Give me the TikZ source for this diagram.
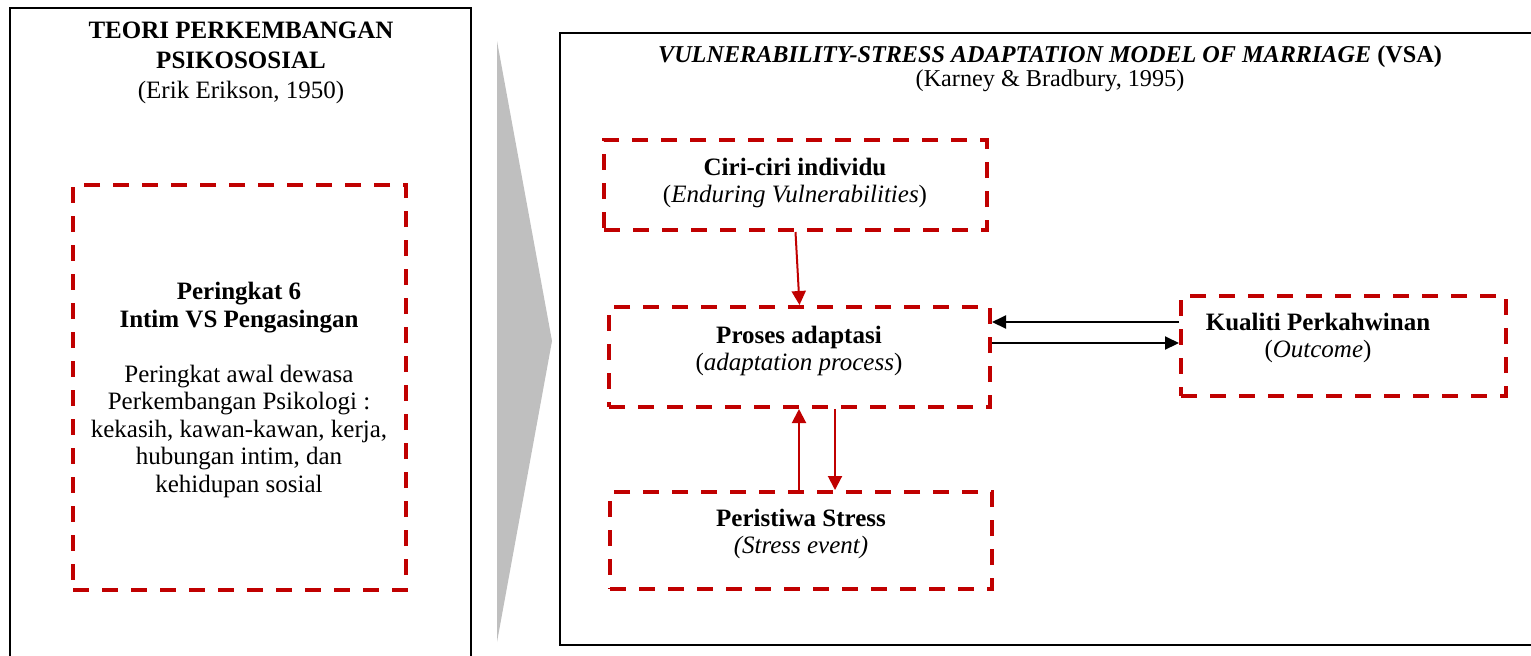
\documentclass[tikz,border=0pt]{standalone}
\usepackage{fontspec}
\setmainfont{Liberation Serif}
\usetikzlibrary{arrows.meta}
\definecolor{dashred}{HTML}{C00000}
\newcommand{\txtsize}{\fontsize{12.5pt}{13.75pt}\selectfont}
\begin{document}
\begin{tikzpicture}[x=0.5pt, y=-0.5pt,
    frame/.style={draw=black, line width=1.1pt},
    dashbox/.style={draw=dashred, line width=2pt, dash pattern=on 8pt off 6.5pt, inner sep=0pt},
    txt/.style={align=center, font=\txtsize, inner sep=0pt},
    redarrow/.style={draw=dashred, line width=1pt, -{Triangle[length=7pt, width=7pt]}},
    blackarrow/.style={draw=black, line width=1pt, -{Triangle[length=7pt, width=6.5pt]}}]
    \useasboundingbox (0, 0) rectangle (1531, 655);
    \clip (0, 0) rectangle (1531, 655);

    \begin{scope}
        \draw[frame] (10, 8) rectangle (471, 680);
        \node[txt, font=\fontsize{12.5pt}{15pt}\selectfont] (teoriTitle) at (241, 63)
            {\textbf{TEORI PERKEMBANGAN}\\ \textbf{PSIKOSOSIAL}\\ (Erik Erikson, 1950)};
        \node[dashbox, minimum width=166.5pt, minimum height=202.5pt] (peringkat) at (239.5, 387.5) {};
        \node[txt] (peringkatTxt) at (239, 390)
            {\textbf{Peringkat 6}\\ \textbf{Intim VS Pengasingan}\\[13.75pt]
             Peringkat awal dewasa\\ Perkembangan Psikologi :\\ kekasih, kawan-kawan, kerja,\\
             hubungan intim, dan\\ kehidupan sosial};
    \end{scope}

    \fill[black!25] (497, 41) -- (552, 341) -- (497, 642) -- cycle;

    \begin{scope}
        \draw[frame] (560, 33) rectangle (1560, 645);
        \node[txt, font=\fontsize{12.1pt}{12pt}\selectfont] (vsaTitle) at (1050, 69)
            {\textit{\textbf{VULNERABILITY-STRESS ADAPTATION MODEL OF MARRIAGE}} \textbf{(VSA)}\\
             (Karney \& Bradbury, 1995)};

        \node[dashbox, minimum width=191.5pt, minimum height=45pt] (ciri) at (795.5, 185) {};
        \node[dashbox, minimum width=190.5pt, minimum height=50pt] (proses) at (799.5, 357) {};
        \node[dashbox, minimum width=191pt, minimum height=48.5pt] (stres) at (801, 540.5) {};
        \node[dashbox, minimum width=162.5pt, minimum height=50pt] (kualiti) at (1343.5, 346) {};

        \node[txt] (ciriTxt) at (795, 183) {\textbf{Ciri-ciri individu}\\ (\textit{Enduring Vulnerabilities})};
        \node[txt] (prosesTxt) at (799, 351) {\textbf{Proses adaptasi}\\ (\textit{adaptation process})};
        \node[txt] (stresTxt) at (801, 534) {\textbf{Peristiwa Stress}\\ \textit{(Stress event)}};
        \node[txt] (kualitiTxt) at (1318, 338) {\textbf{Kualiti Perkahwinan}\\ (\textit{Outcome})};

        % connectors
        \draw[redarrow] (ciri.south) -- (proses.north);
        \draw[redarrow] ([xshift=-1pt]stres.north) -- ([xshift=-1pt]stres.north |- proses.south);
        \draw[redarrow] ([xshift=17.75pt]proses.south) -- ([xshift=17.75pt]proses.south |- stres.north);
        \draw[blackarrow] ([yshift=12pt]kualiti.west) -- ([yshift=12pt]kualiti.west -| proses.east);
        \draw[blackarrow] ([yshift=1.5pt]kualiti.west -| proses.east) -- ([yshift=1.5pt]kualiti.west);
    \end{scope}
\end{tikzpicture}
\end{document}
